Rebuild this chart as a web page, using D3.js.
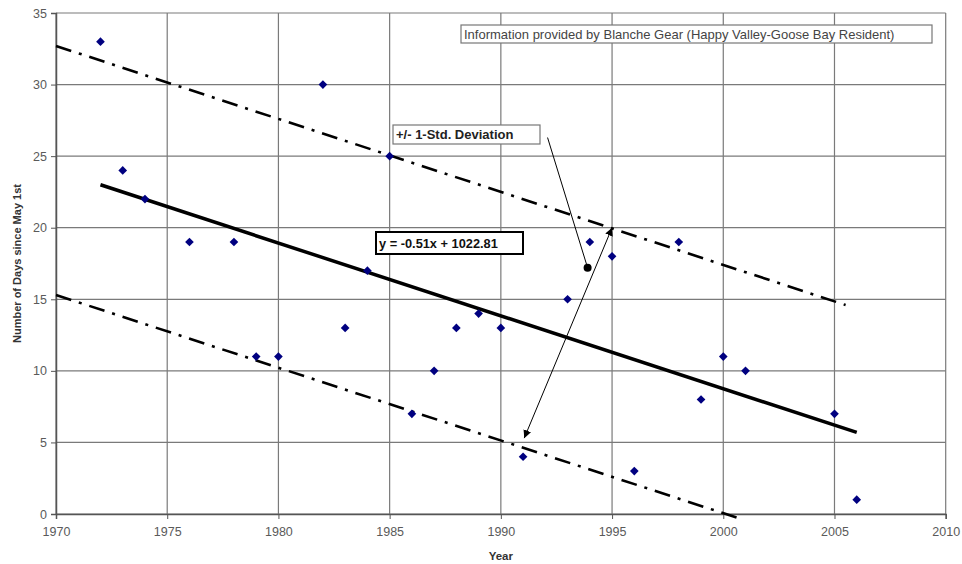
<!DOCTYPE html>
<html>
<head>
<meta charset="utf-8">
<script src="https://cdn.jsdelivr.net/npm/d3@7"></script>
<style>
  body { margin: 0; background: #fff; }
  svg { display: block; font-family: Arial, "Liberation Sans", sans-serif; }
</style>
</head>
<body>
<div id="chart"></div>
<script>
// observed break-up dates, days since May 1st
const years = [1972, 1973, 1974, 1976, 1978, 1979, 1980, 1982, 1983, 1984, 1985, 1986, 1987,
  1988, 1989, 1990, 1991, 1993, 1994, 1995, 1996, 1998, 1999, 2000, 2001, 2005, 2006];
const days = [33, 24, 22, 19, 19, 11, 11, 30, 13, 17, 25, 7, 10,
  13, 14, 13, 4, 15, 19, 18, 3, 19, 8, 11, 10, 7, 1];

// line end points
const trendLine = [[1972, 23.0], [2006, 5.7]];
const upperLine = [[1970, 32.7], [2005.5, 14.6]];
const lowerLine = [[1970, 15.3], [2000.9, -0.4]];

const xTicks = [1970, 1975, 1980, 1985, 1990, 1995, 2000, 2005, 2010];
const yTicks = [0, 5, 10, 15, 20, 25, 30, 35];

const width = 962, height = 564;
const margin = { top: 13, right: 16, bottom: 50, left: 56 };

const svg = d3.select("#chart").append("svg")
  .attr("width", width)
  .attr("height", height);

const x = d3.scaleLinear().domain([1970, 2010]).range([margin.left, width - margin.right - 0.3]);
const y = d3.scaleLinear().domain([0, 35]).range([height - margin.bottom, margin.top]);

// grid
svg.append("g")
  .attr("stroke", "#7a7a7a")
  .attr("stroke-width", 1.2)
  .call(g => g.selectAll(".v").data(xTicks).join("line")
    .attr("x1", d => x(d)).attr("x2", d => x(d))
    .attr("y1", y(0)).attr("y2", y(35)))
  .call(g => g.selectAll(".h").data(yTicks).join("line")
    .attr("x1", x(1970)).attr("x2", x(2010))
    .attr("y1", d => y(d)).attr("y2", d => y(d)));

// axes
svg.append("g")
  .attr("transform", `translate(0,${y(0)})`)
  .call(d3.axisBottom(x).tickValues(xTicks).tickFormat(d3.format("d")).tickSize(5).tickPadding(8))
  .call(g => g.select(".domain").attr("stroke", "#555").attr("stroke-width", 1.5))
  .call(g => g.selectAll(".tick line").attr("stroke", "#555"))
  .call(g => g.selectAll("text").attr("fill", "#5a5a5a").attr("font-size", 12.5).attr("font-family", "Arial"));

svg.append("g")
  .attr("transform", `translate(${x(1970)},0)`)
  .call(d3.axisLeft(y).tickValues(yTicks).tickSize(5).tickPadding(4))
  .call(g => g.select(".domain").attr("stroke", "#555").attr("stroke-width", 1.5))
  .call(g => g.selectAll(".tick line").attr("stroke", "#555"))
  .call(g => g.selectAll("text").attr("fill", "#5a5a5a").attr("font-size", 12.5).attr("font-family", "Arial"));

// axis titles
svg.append("text")
  .attr("x", x(1990)).attr("y", 560)
  .attr("text-anchor", "middle")
  .attr("font-size", 11.5).attr("font-weight", "bold").attr("fill", "#333")
  .text("Year");

svg.append("text")
  .attr("transform", `translate(21,${y(17.5)}) rotate(-90)`)
  .attr("text-anchor", "middle")
  .attr("font-size", 11).attr("font-weight", "bold").attr("fill", "#333")
  .text("Number of Days since May 1st");

const line = d3.line().x(d => x(d[0])).y(d => y(d[1]));

// +/- 1 std deviation lines
svg.append("g")
  .attr("fill", "none")
  .attr("stroke", "#000")
  .attr("stroke-width", 2.6)
  .attr("stroke-dasharray", "16 8 3 8")
  .selectAll("path")
  .data([upperLine, lowerLine])
  .join("path")
  .attr("d", line);

// trend line
svg.append("path")
  .attr("fill", "none")
  .attr("stroke", "#000")
  .attr("stroke-width", 3.5)
  .attr("d", line(trendLine));

// data points
svg.append("g")
  .attr("fill", "#000080")
  .selectAll("path")
  .data(years.map((yr, i) => [yr, days[i]]))
  .join("path")
  .attr("transform", d => `translate(${x(d[0])},${y(d[1])})`)
  .attr("d", d3.symbol(d3.symbolDiamond2, 48));

// annotation arrows
const defs = svg.append("defs");
defs.append("marker")
  .attr("id", "arrow")
  .attr("viewBox", "0 0 10 10")
  .attr("refX", 10).attr("refY", 5)
  .attr("markerWidth", 8).attr("markerHeight", 8)
  .attr("markerUnits", "userSpaceOnUse")
  .attr("orient", "auto-start-reverse")
  .append("path").attr("d", "M0,0L10,5L0,10z").attr("fill", "#000");

svg.append("line")
  .attr("x1", x(1991.05)).attr("y1", y(5.3))
  .attr("x2", x(1995.0)).attr("y2", y(20.0))
  .attr("stroke", "#000").attr("stroke-width", 1)
  .attr("marker-start", "url(#arrow)")
  .attr("marker-end", "url(#arrow)");

svg.append("line")
  .attr("x1", x(1992.1)).attr("y1", y(26.3))
  .attr("x2", x(1993.9)).attr("y2", y(17.2))
  .attr("stroke", "#000").attr("stroke-width", 1);
svg.append("circle")
  .attr("cx", x(1993.9)).attr("cy", y(17.2)).attr("r", 4)
  .attr("fill", "#000");

// text boxes
function box(x0, y0, w, h, text, opts) {
  const g = svg.append("g");
  g.append("rect")
    .attr("x", x0).attr("y", y0).attr("width", w).attr("height", h)
    .attr("fill", "#fff")
    .attr("stroke", opts.stroke).attr("stroke-width", opts.sw);
  g.append("text")
    .attr("x", x0 + 3).attr("y", y0 + h / 2 + 4.5)
    .attr("font-size", opts.size)
    .attr("font-weight", opts.weight)
    .attr("fill", opts.fill)
    .text(text);
}

box(461, 25, 471, 18, "Information provided by Blanche Gear (Happy Valley-Goose Bay Resident)",
  { stroke: "#777", sw: 1.2, size: 13, weight: "normal", fill: "#444" });
box(393, 125, 147, 19, "+/- 1-Std. Deviation",
  { stroke: "#777", sw: 1.2, size: 13, weight: "bold", fill: "#222" });
box(376, 232, 147, 22, "y = -0.51x + 1022.81",
  { stroke: "#000", sw: 2, size: 12.8, weight: "bold", fill: "#111" });
</script>
</body>
</html>
